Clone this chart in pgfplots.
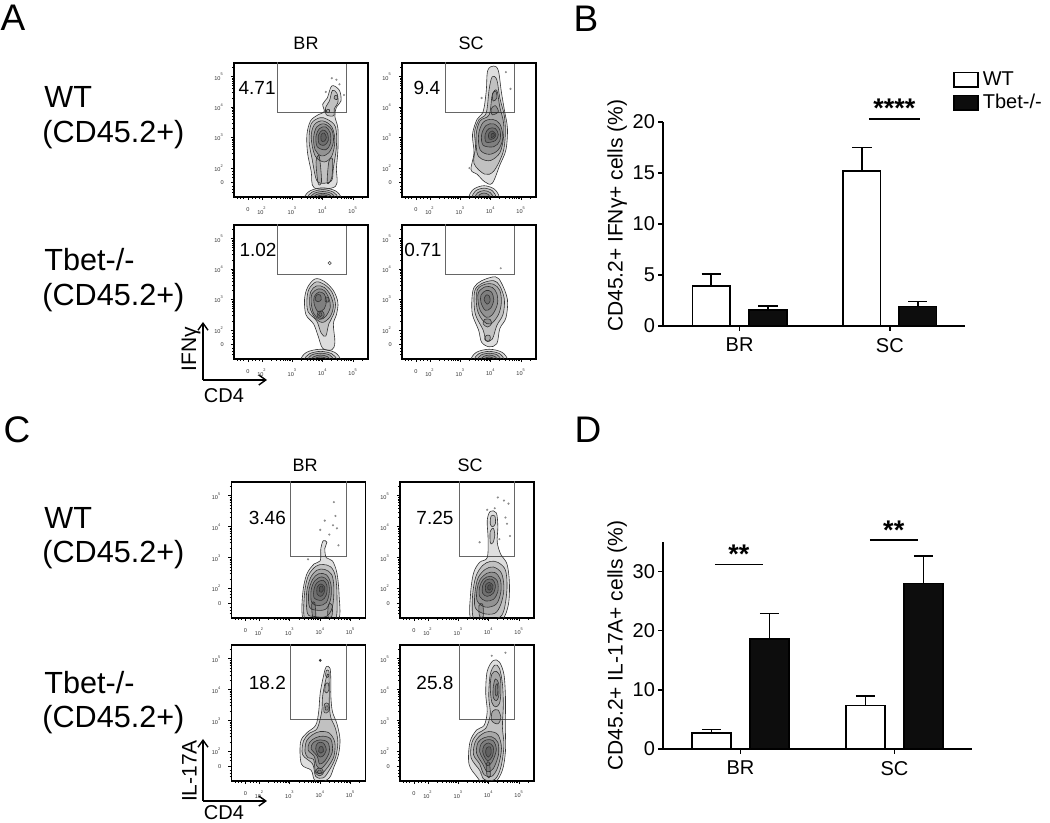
\documentclass[border=0pt]{standalone}
\usepackage{fontspec}
\setmainfont{Liberation Sans}
\usepackage{pgfplots}
\pgfplotsset{compat=1.18}
\usetikzlibrary{arrows.meta}

\tikzset{
  ct/.style={smooth cycle, tension=0.55, draw=black!80, line width=0.3pt, fill=black, fill opacity=0.13},
  gatebox/.style={draw=black!60, line width=0.45pt},
}
\pgfplotsset{
  flow/.style={
    scale only axis, width=67pt, height=67pt, anchor=north west,
    xmin=1.08, xmax=5.49, ymin=1.05, ymax=5.45,
    axis line style={line width=0.7pt},
    tick pos=left, tick align=outside,
    xtick={1.54,2,3,4,5},
    xticklabels={0,10\textsuperscript{2},10\textsuperscript{3},10\textsuperscript{4},10\textsuperscript{5}},
    ytick={1.52,2,3,4,5},
    yticklabels={0,10\textsuperscript{2},10\textsuperscript{3},10\textsuperscript{4},10\textsuperscript{5}},
    minor xtick={1.2,1.3,1.4,1.7,1.8,1.9,2.3,2.48,2.6,2.7,2.78,2.85,2.9,2.95,3.3,3.48,3.6,3.7,3.78,3.85,3.9,3.95,4.3,4.48,4.6,4.7,4.78,4.85,4.9,4.95,5.3},
    minor ytick={1.2,1.3,1.4,1.7,1.8,1.9,2.3,2.48,2.6,2.7,2.78,2.85,2.9,2.95,3.3,3.48,3.6,3.7,3.78,3.85,3.9,3.95,4.3,4.48,4.6,4.7,4.78,4.85,4.9,4.95,5.3},
    major tick length=1.6pt, minor tick length=0.9pt,
    every tick/.style={black, line width=0.4pt},
    tick label style={font=\fontsize{2.8}{3}\selectfont, text=black!80},
  },
  barax/.style={
    scale only axis, anchor=south west, clip=false,
    axis x line*=bottom, axis y line*=left,
    axis line style={line width=0.75pt, -},
    tick align=outside, major tick length=2.5pt,
    every tick/.style={black, line width=0.75pt},
    xtick={0,1}, xticklabels={BR,SC},
    tick label style={font=\fontsize{10}{12}\selectfont},
    yticklabel style={xshift=2pt},
    /pgf/number format/assume math mode=true,
  },
  errs/.style={error bars/.cd, y dir=plus, y explicit,
    error bar style={line width=0.75pt, black},
    error mark options={rotate=90, mark size=4.8pt, line width=0.75pt, black}},
}

\begin{document}
\begin{tikzpicture}
\useasboundingbox (0,0) rectangle (525pt,411.5pt);

% ---------------- panel letters and text ----------------
\node[font=\fontsize{18.5}{20}\selectfont] at (6.5pt,402.5pt) {A};
\node[font=\fontsize{18.5}{20}\selectfont] at (293pt,402pt) {B};
\node[font=\fontsize{18.5}{20}\selectfont] at (8.5pt,196.5pt) {C};
\node[font=\fontsize{18.5}{20}\selectfont] at (294pt,196.5pt) {D};

\node[font=\fontsize{9}{10}\selectfont] at (153pt,390pt) {BR};
\node[font=\fontsize{9}{10}\selectfont] at (235.5pt,390pt) {SC};
\node[font=\fontsize{9}{10}\selectfont] at (152.5pt,179pt) {BR};
\node[font=\fontsize{9}{10}\selectfont] at (235pt,179pt) {SC};

\begin{scope}[every node/.style={font=\fontsize{15.3}{18}\selectfont, anchor=west, inner sep=0pt}]
\node at (22pt,363pt) {WT};
\node at (21pt,344pt) {(CD45.2+)};
\node at (22pt,281.5pt) {Tbet-/-};
\node at (21pt,262.5pt) {(CD45.2+)};
\node at (22pt,152.5pt) {WT};
\node at (21pt,134pt) {(CD45.2+)};
\node at (22pt,70pt) {Tbet-/-};
\node at (21pt,51.5pt) {(CD45.2+)};
\end{scope}

% axis arrows
\draw[line width=0.7pt, -{Straight Barb[length=3.5pt,width=5pt]}] (101.5pt,221.5pt) -- (101.5pt,250.5pt);
\draw[line width=0.7pt, -{Straight Barb[length=3.5pt,width=5pt]}] (101.5pt,221.5pt) -- (133.5pt,221.5pt);
\node[rotate=90, font=\fontsize{10.5}{11}\selectfont] at (95.5pt,237pt) {IFNγ};
\node[font=\fontsize{10}{11}\selectfont] at (112pt,213.5pt) {CD4};
\draw[line width=0.7pt, -{Straight Barb[length=3.5pt,width=5pt]}] (101.5pt,11pt) -- (101.5pt,42pt);
\draw[line width=0.7pt, -{Straight Barb[length=3.5pt,width=5pt]}] (101.5pt,11pt) -- (133.5pt,11pt);
\node[rotate=90, font=\fontsize{10.5}{11}\selectfont] at (94.75pt,26pt) {IL-17A};
\node[font=\fontsize{10}{11}\selectfont, inner sep=0pt] at (112pt,5.2pt) {CD4};

% ================= A : WT BR =================
\begin{axis}[flow, at={(117pt,380pt)}]
\addplot[gatebox] coordinates {(2.52,5.6)(2.52,3.83)(4.79,3.83)(4.79,5.6)};
\addplot[black, line width=1.1pt] coordinates {(2.52,5.45)(4.79,5.45)};
\addplot[ct] coordinates {(3.4,1.02)(3.58,1.25)(4.0,1.35)(4.42,1.25)(4.6,1.02)(4.42,0.79)(4.0,0.69)(3.58,0.79)};
\addplot[ct] coordinates {(3.5,1.02)(3.65,1.21)(4.0,1.29)(4.35,1.21)(4.5,1.02)(4.35,0.83)(4.0,0.75)(3.65,0.83)};
\addplot[ct] coordinates {(3.6,1.02)(3.72,1.17)(4.0,1.23)(4.28,1.17)(4.4,1.02)(4.28,0.87)(4.0,0.81)(3.72,0.87)};
\addplot[ct] coordinates {(3.7,1.02)(3.79,1.13)(4.0,1.17)(4.21,1.13)(4.3,1.02)(4.21,0.91)(4.0,0.87)(3.79,0.91)};
\addplot[ct] coordinates {(3.8,1.02)(3.86,1.09)(4.0,1.12)(4.14,1.09)(4.2,1.02)(4.14,0.95)(4.0,0.92)(3.86,0.95)};
\addplot[ct] coordinates {(3.72,1.35)(3.62,1.9)(3.5,2.5)(3.48,3.1)(3.6,3.55)(3.85,3.75)(4.05,3.85)(4.0,4.1)(4.15,4.3)(4.3,4.7)(4.55,4.55)(4.6,4.2)(4.45,4.0)(4.4,3.7)(4.5,3.3)(4.5,2.6)(4.45,2.0)(4.42,1.4)};
\addplot[ct] coordinates {(4.12,3.75)(4.1,4.0)(4.22,4.2)(4.32,4.55)(4.47,4.45)(4.5,4.15)(4.38,3.95)(4.36,3.72)};
\addplot[ct] coordinates {(3.8,1.6)(3.65,2.3)(3.55,2.9)(3.62,3.45)(3.9,3.65)(4.15,3.6)(4.42,3.35)(4.45,2.7)(4.35,2.0)(4.3,1.6)(4.05,1.5)};
\addplot[ct] coordinates {(3.85,1.5)(3.78,2.2)(3.88,2.4)(3.95,1.8)(3.95,1.5)};
\addplot[ct] coordinates {(4.15,1.5)(4.2,2.2)(4.32,2.3)(4.3,1.7)};
\addplot[ct] coordinates {(3.75,2.4)(3.62,3.0)(3.72,3.42)(4.0,3.55)(4.3,3.35)(4.4,2.9)(4.3,2.4)(4.05,2.2)};
\addplot[ct] coordinates {(3.75,2.6)(3.7,3.0)(3.8,3.35)(4.05,3.45)(4.3,3.25)(4.35,2.85)(4.2,2.5)(3.95,2.4)};
\addplot[ct] coordinates {(3.82,2.7)(3.78,3.05)(3.9,3.3)(4.1,3.35)(4.25,3.15)(4.25,2.8)(4.1,2.6)};
\addplot[ct] coordinates {(3.88,2.8)(3.86,3.08)(4.0,3.25)(4.15,3.15)(4.18,2.9)(4.05,2.75)};
\addplot[ct] coordinates {(3.95,2.9)(3.95,3.1)(4.05,3.15)(4.12,3.0)(4.05,2.88)};
\addplot[ct] coordinates {(4.38,4.28)(4.4,4.38)(4.48,4.36)(4.47,4.25)};
\addplot[ct] coordinates {(4.12,3.85)(4.15,3.93)(4.22,3.92)(4.21,3.83)};
\addplot[only marks, mark=*, mark size=0.3pt, black!45] coordinates {(4.3,4.95)(4.55,4.75)(4.1,4.5)(4.45,4.9)(4.7,4.4)};
\node[font=\fontsize{9.5}{10}\selectfont] at (axis cs:1.84,4.63) {4.71};
\end{axis}

% ================= A : WT SC =================
\begin{axis}[flow, at={(201pt,380pt)}]
\addplot[gatebox] coordinates {(2.52,5.6)(2.52,3.83)(4.79,3.83)(4.79,5.6)};
\addplot[black, line width=1.1pt] coordinates {(2.52,5.45)(4.79,5.45)};
\addplot[ct] coordinates {(3.28,1.02)(3.43,1.3)(3.78,1.42)(4.13,1.3)(4.28,1.02)(4.13,0.74)(3.78,0.62)(3.43,0.74)};
\addplot[ct] coordinates {(3.38,1.02)(3.5,1.25)(3.78,1.34)(4.06,1.25)(4.18,1.02)(4.06,0.79)(3.78,0.7)(3.5,0.79)};
\addplot[ct] coordinates {(3.48,1.02)(3.57,1.19)(3.78,1.26)(3.99,1.19)(4.08,1.02)(3.99,0.85)(3.78,0.78)(3.57,0.85)};
\addplot[ct] coordinates {(3.58,1.02)(3.64,1.13)(3.78,1.18)(3.92,1.13)(3.98,1.02)(3.92,0.91)(3.78,0.86)(3.64,0.91)};
\addplot[ct] coordinates {(3.35,1.95)(3.45,2.5)(3.4,3.1)(3.55,3.6)(3.75,3.85)(3.85,4.5)(3.9,5.2)(4.1,5.35)(4.25,5.2)(4.35,4.5)(4.45,3.9)(4.55,3.3)(4.5,2.6)(4.3,2.1)(4.05,1.5)(3.8,1.55)(3.55,1.8)};
\addplot[ct] coordinates {(3.45,2.15)(3.5,2.7)(3.47,3.2)(3.62,3.6)(3.85,3.8)(3.95,4.6)(4.05,5.0)(4.2,4.9)(4.3,4.3)(4.45,3.7)(4.48,3.1)(4.4,2.5)(4.1,1.9)(3.8,1.8)};
\addplot[ct] coordinates {(3.55,2.5)(3.52,3.1)(3.65,3.55)(3.95,3.75)(4.05,4.4)(4.2,4.55)(4.3,4.0)(4.42,3.5)(4.42,3.0)(4.3,2.5)(4.0,2.25)(3.7,2.3)};
\addplot[ct] coordinates {(3.65,2.6)(3.6,3.1)(3.75,3.5)(4.05,3.6)(4.3,3.45)(4.4,3.0)(4.25,2.6)(3.95,2.45)};
\addplot[ct] coordinates {(3.75,2.75)(3.7,3.1)(3.85,3.4)(4.1,3.45)(4.3,3.25)(4.3,2.9)(4.1,2.7)};
\addplot[ct] coordinates {(3.85,2.85)(3.82,3.12)(3.95,3.3)(4.15,3.3)(4.25,3.1)(4.15,2.9)};
\addplot[ct] coordinates {(3.95,2.95)(3.93,3.12)(4.05,3.22)(4.17,3.1)(4.1,2.97)};
\addplot[ct] coordinates {(4.02,3.0)(4.02,3.12)(4.09,3.15)(4.12,3.06)};
\addplot[ct] coordinates {(4.08,4.2)(4.06,4.45)(4.17,4.52)(4.2,4.3)};
\addplot[ct] coordinates {(4.05,3.75)(4.02,3.95)(4.15,4.05)(4.25,3.85)};
\addplot[only marks, mark=*, mark size=0.3pt, black!45] coordinates {(4.5,5.15)(4.65,4.6)(3.7,4.3)(3.3,2.0)};
\node[font=\fontsize{9.5}{10}\selectfont] at (axis cs:1.9,4.63) {9.4};
\end{axis}

% ================= A : Tbet BR =================
\begin{axis}[flow, at={(117pt,299pt)}]
\addplot[gatebox] coordinates {(2.52,5.6)(2.52,3.83)(4.79,3.83)(4.79,5.6)};
\addplot[black, line width=1.1pt] coordinates {(2.52,5.45)(4.79,5.45)};
\addplot[ct] coordinates {(3.28,1.02)(3.47,1.27)(3.93,1.37)(4.39,1.27)(4.58,1.02)(4.39,0.77)(3.93,0.67)(3.47,0.77)};
\addplot[ct] coordinates {(3.4,1.02)(3.56,1.22)(3.93,1.3)(4.3,1.22)(4.46,1.02)(4.3,0.82)(3.93,0.74)(3.56,0.82)};
\addplot[ct] coordinates {(3.51,1.02)(3.63,1.18)(3.93,1.24)(4.23,1.18)(4.35,1.02)(4.23,0.86)(3.93,0.8)(3.63,0.86)};
\addplot[ct] coordinates {(3.62,1.02)(3.71,1.13)(3.93,1.18)(4.15,1.13)(4.24,1.02)(4.15,0.91)(3.93,0.86)(3.71,0.91)};
\addplot[ct] coordinates {(3.73,1.02)(3.79,1.09)(3.93,1.12)(4.07,1.09)(4.13,1.02)(4.07,0.95)(3.93,0.92)(3.79,0.95)};
\addplot[ct] coordinates {(3.5,3.4)(3.75,3.68)(4.05,3.6)(4.35,3.3)(4.5,2.9)(4.45,2.5)(4.35,2.2)(4.4,1.6)(4.3,1.35)(4.0,1.4)(3.85,1.8)(3.7,2.2)(3.45,2.5)(3.4,3.0)};
\addplot[ct] coordinates {(3.55,3.35)(3.78,3.58)(4.05,3.5)(4.3,3.25)(4.42,2.85)(4.35,2.5)(4.2,2.2)(4.1,1.8)(3.95,1.9)(3.8,2.3)(3.52,2.6)(3.48,3.0)};
\addplot[ct] coordinates {(3.6,3.25)(3.8,3.45)(4.05,3.4)(4.25,3.15)(4.35,2.8)(4.25,2.45)(4.0,2.25)(3.75,2.4)(3.58,2.75)};
\addplot[ct] coordinates {(3.65,3.2)(3.85,3.35)(4.05,3.3)(4.2,3.05)(4.25,2.75)(4.1,2.45)(3.9,2.35)(3.7,2.55)(3.62,2.9)};
\addplot[ct] coordinates {(3.72,3.1)(3.88,3.25)(4.05,3.18)(4.12,2.95)(4.05,2.7)(3.85,2.6)(3.72,2.85)};
\addplot[ct] coordinates {(3.82,2.45)(3.85,2.6)(3.98,2.62)(4.05,2.5)(3.97,2.38)};
\addplot[ct] coordinates {(3.86,2.5)(3.9,2.57)(3.96,2.56)(3.98,2.48)(3.92,2.44)};
\addplot[ct] coordinates {(3.75,3.0)(3.8,3.15)(3.92,3.15)(3.95,3.0)(3.85,2.93)};
\addplot[ct] coordinates {(4.08,2.95)(4.1,3.08)(4.2,3.05)(4.18,2.92)};
\addplot[only marks, mark=o, mark size=0.8pt, black!70, line width=0.3pt] coordinates {(4.23,4.2)};
\node[font=\fontsize{9.5}{10}\selectfont] at (axis cs:1.87,4.63) {1.02};
\end{axis}

% ================= A : Tbet SC =================
\begin{axis}[flow, at={(201pt,299pt)}]
\addplot[gatebox] coordinates {(2.52,5.6)(2.52,3.83)(4.79,3.83)(4.79,5.6)};
\addplot[black, line width=1.1pt] coordinates {(2.52,5.45)(4.79,5.45)};
\addplot[ct] coordinates {(3.35,1.02)(3.53,1.27)(3.95,1.37)(4.37,1.27)(4.55,1.02)(4.37,0.77)(3.95,0.67)(3.53,0.77)};
\addplot[ct] coordinates {(3.46,1.02)(3.6,1.22)(3.95,1.3)(4.3,1.22)(4.44,1.02)(4.3,0.82)(3.95,0.74)(3.6,0.82)};
\addplot[ct] coordinates {(3.57,1.02)(3.68,1.18)(3.95,1.24)(4.22,1.18)(4.33,1.02)(4.22,0.86)(3.95,0.8)(3.68,0.86)};
\addplot[ct] coordinates {(3.68,1.02)(3.76,1.13)(3.95,1.18)(4.14,1.13)(4.22,1.02)(4.14,0.91)(3.95,0.86)(3.76,0.91)};
\addplot[ct] coordinates {(3.79,1.02)(3.84,1.09)(3.95,1.12)(4.06,1.09)(4.11,1.02)(4.06,0.95)(3.95,0.92)(3.84,0.95)};
\addplot[ct] coordinates {(3.45,3.4)(3.7,3.62)(4.15,3.75)(4.35,3.55)(4.55,3.0)(4.5,2.4)(4.3,2.05)(4.2,1.55)(3.95,1.45)(3.7,1.6)(3.6,2.0)(3.4,2.5)(3.38,3.0)};
\addplot[ct] coordinates {(3.5,3.35)(3.75,3.55)(4.1,3.62)(4.3,3.45)(4.45,3.0)(4.4,2.5)(4.2,2.15)(4.05,1.7)(3.85,1.65)(3.75,2.0)(3.5,2.5)(3.45,3.0)};
\addplot[ct] coordinates {(3.55,3.3)(3.8,3.5)(4.1,3.5)(4.3,3.3)(4.35,2.9)(4.25,2.5)(4.0,2.2)(3.75,2.3)(3.55,2.7)};
\addplot[ct] coordinates {(3.6,3.25)(3.82,3.42)(4.05,3.4)(4.2,3.2)(4.22,2.85)(4.05,2.5)(3.85,2.42)(3.65,2.65)(3.58,3.0)};
\addplot[ct] coordinates {(3.68,3.15)(3.85,3.3)(4.02,3.25)(4.1,3.0)(4.0,2.72)(3.82,2.65)(3.68,2.9)};
\addplot[ct] coordinates {(3.78,3.0)(3.85,3.15)(3.95,3.12)(3.98,2.95)(3.88,2.85)};
\addplot[ct] coordinates {(3.75,2.2)(3.8,2.35)(3.98,2.35)(4.02,2.2)(3.9,2.1)};
\addplot[ct] coordinates {(3.8,1.7)(3.85,1.82)(3.97,1.82)(3.98,1.7)(3.9,1.62)};
\addplot[only marks, mark=*, mark size=0.3pt, black!40] coordinates {(4.33,4.03)};
\node[font=\fontsize{9.5}{10}\selectfont] at (axis cs:1.77,4.63) {0.71};
\end{axis}

% ================= C : WT BR =================
\begin{axis}[flow, height=68pt, at={(115.75pt,170.5pt)}]
\addplot[gatebox] coordinates {(3.02,5.6)(3.02,3.05)(4.85,3.05)(4.85,5.6)};
\addplot[ct] coordinates {(3.45,1.0)(3.42,1.8)(3.55,2.45)(3.8,2.8)(4.0,2.9)(4.02,3.3)(4.1,3.55)(4.22,3.5)(4.15,3.3)(4.2,3.0)(4.4,2.9)(4.55,2.5)(4.62,1.8)(4.6,1.0)(4.0,0.9)};
\addplot[ct] coordinates {(3.5,1.0)(3.48,1.8)(3.6,2.4)(3.85,2.72)(4.1,2.78)(4.35,2.7)(4.5,2.4)(4.55,1.8)(4.5,1.0)(4.0,0.95)};
\addplot[ct] coordinates {(3.58,1.2)(3.55,1.85)(3.68,2.35)(3.9,2.6)(4.15,2.62)(4.38,2.45)(4.45,2.0)(4.4,1.4)(4.2,1.1)(3.8,1.1)};
\addplot[ct] coordinates {(3.65,1.4)(3.62,1.9)(3.75,2.3)(3.95,2.48)(4.2,2.45)(4.35,2.15)(4.35,1.7)(4.2,1.35)(3.9,1.3)};
\addplot[ct] coordinates {(3.72,1.55)(3.7,1.95)(3.82,2.25)(4.05,2.38)(4.25,2.25)(4.3,1.9)(4.2,1.55)(3.95,1.45)};
\addplot[ct] coordinates {(3.8,1.7)(3.8,2.0)(3.9,2.2)(4.1,2.27)(4.22,2.1)(4.2,1.8)(4.05,1.62)};
\addplot[ct] coordinates {(3.9,1.82)(3.9,2.05)(4.02,2.15)(4.15,2.05)(4.12,1.85)(4.02,1.75)};
\addplot[ct] coordinates {(3.98,1.9)(3.98,2.05)(4.07,2.08)(4.1,1.95)(4.04,1.88)};
\addplot[ct] coordinates {(3.75,1.1)(3.72,1.5)(3.82,1.55)(3.85,1.1)};
\addplot[ct] coordinates {(4.25,1.1)(4.28,1.5)(4.4,1.45)(4.38,1.1)};
\addplot[only marks, mark=*, mark size=0.3pt, black!45] coordinates {(4.45,4.8)(4.15,4.2)(4.42,4.05)(4.55,3.95)(4.3,3.75)(4.0,3.9)(4.6,3.4)(4.5,4.35)(3.6,2.95)};
\node[font=\fontsize{9.5}{10}\selectfont] at (axis cs:2.26,4.28) {3.46};
\end{axis}

% ================= C : WT SC =================
\begin{axis}[flow, height=68pt, at={(200pt,170.5pt)}]
\addplot[gatebox] coordinates {(3.02,5.6)(3.02,3.05)(4.85,3.05)(4.85,5.6)};
\addplot[ct] coordinates {(3.42,1.0)(3.4,1.8)(3.5,2.5)(3.7,2.85)(3.95,3.0)(3.98,3.6)(3.95,4.2)(4.05,4.5)(4.25,4.45)(4.3,4.0)(4.28,3.5)(4.4,3.1)(4.6,2.8)(4.68,2.2)(4.65,1.5)(4.45,1.0)(4.0,0.9)};
\addplot[ct] coordinates {(3.48,1.1)(3.47,1.8)(3.58,2.4)(3.8,2.75)(4.05,2.88)(4.3,2.85)(4.55,2.6)(4.6,2.0)(4.5,1.3)(4.3,1.05)(3.7,1.05)};
\addplot[ct] coordinates {(3.55,1.4)(3.55,1.9)(3.65,2.35)(3.88,2.62)(4.15,2.7)(4.42,2.5)(4.5,2.0)(4.4,1.5)(4.2,1.2)(3.8,1.2)};
\addplot[ct] coordinates {(3.62,1.6)(3.62,2.0)(3.72,2.3)(3.95,2.5)(4.2,2.52)(4.38,2.3)(4.4,1.9)(4.25,1.5)(3.9,1.4)};
\addplot[ct] coordinates {(3.7,1.75)(3.7,2.05)(3.82,2.3)(4.05,2.4)(4.28,2.25)(4.3,1.9)(4.15,1.65)(3.9,1.6)};
\addplot[ct] coordinates {(3.8,1.85)(3.8,2.1)(3.92,2.28)(4.12,2.3)(4.22,2.1)(4.15,1.85)(3.95,1.75)};
\addplot[ct] coordinates {(3.9,1.92)(3.9,2.12)(4.02,2.2)(4.14,2.1)(4.1,1.92)(4.0,1.86)};
\addplot[ct] coordinates {(3.97,1.98)(3.98,2.1)(4.06,2.12)(4.08,2.0)(4.02,1.95)};
\addplot[ct] coordinates {(4.05,4.1)(4.08,4.35)(4.2,4.35)(4.22,4.1)(4.12,4.0)};
\addplot[ct] coordinates {(4.05,3.5)(4.05,3.85)(4.15,3.95)(4.2,3.75)(4.15,3.5)(4.1,3.45)};
\addplot[ct] coordinates {(3.7,1.1)(3.68,1.45)(3.8,1.5)(3.82,1.1)};
\addplot[only marks, mark=*, mark size=0.3pt, black!45] coordinates {(4.3,4.95)(4.5,4.85)(4.65,4.75)(4.2,4.6)(4.55,4.3)(3.95,4.55)(4.7,3.7)(3.7,3.5)(4.6,4.1)(4.35,3.6)};
\node[font=\fontsize{9.5}{10}\selectfont] at (axis cs:2.23,4.28) {7.25};
\end{axis}

% ================= C : Tbet BR =================
\begin{axis}[flow, height=68pt, at={(115.75pt,89pt)}]
\addplot[gatebox] coordinates {(3.02,5.6)(3.02,3.05)(4.85,3.05)(4.85,5.6)};
\addplot[ct] coordinates {(3.38,1.6)(3.35,2.3)(3.55,2.6)(3.85,2.85)(3.95,3.3)(4.0,3.9)(4.12,4.5)(4.2,4.75)(4.32,4.7)(4.35,4.3)(4.35,3.8)(4.4,3.3)(4.55,2.9)(4.65,2.4)(4.6,1.9)(4.45,1.5)(4.3,1.15)(4.0,1.0)(3.8,1.1)(3.7,1.4)};
\addplot[ct] coordinates {(3.42,1.9)(3.45,2.35)(3.65,2.6)(3.9,2.75)(4.05,3.3)(4.08,3.8)(4.2,4.4)(4.28,4.5)(4.3,4.0)(4.3,3.5)(4.35,3.1)(4.5,2.75)(4.58,2.3)(4.5,1.8)(4.3,1.4)(4.1,1.15)(3.85,1.2)(3.75,1.6)};
\addplot[ct] coordinates {(3.5,2.0)(3.55,2.35)(3.75,2.55)(4.0,2.65)(4.3,2.6)(4.48,2.3)(4.45,1.85)(4.25,1.5)(4.05,1.3)(3.85,1.35)(3.78,1.75)(3.6,1.8)};
\addplot[ct] coordinates {(3.6,2.05)(3.65,2.3)(3.85,2.45)(4.1,2.5)(4.35,2.4)(4.4,2.0)(4.22,1.65)(4.02,1.45)(3.88,1.55)(3.8,1.85)};
\addplot[ct] coordinates {(3.7,2.1)(3.78,2.3)(4.0,2.38)(4.25,2.3)(4.3,2.0)(4.15,1.7)(3.98,1.6)(3.9,1.85)};
\addplot[ct] coordinates {(3.85,2.1)(3.92,2.28)(4.1,2.28)(4.2,2.05)(4.08,1.85)(3.95,1.85)};
\addplot[ct] coordinates {(3.95,2.0)(3.98,2.15)(4.08,2.15)(4.1,2.0)(4.02,1.95)};
\addplot[ct] coordinates {(3.85,1.3)(3.9,1.45)(4.05,1.45)(4.1,1.3)(3.98,1.22)};
\addplot[ct] coordinates {(3.9,1.33)(3.94,1.4)(4.02,1.4)(4.04,1.32)(3.97,1.28)};
\addplot[ct] coordinates {(4.12,3.3)(4.15,3.55)(4.27,3.55)(4.3,3.35)(4.2,3.25)};
\addplot[ct] coordinates {(4.17,3.35)(4.19,3.48)(4.25,3.48)(4.26,3.36)};
\addplot[ct] coordinates {(4.15,3.95)(4.18,4.2)(4.27,4.2)(4.28,3.98)(4.2,3.9)};
\addplot[ct] coordinates {(4.18,4.45)(4.2,4.62)(4.28,4.62)(4.29,4.45)(4.23,4.4)};
\addplot[only marks, mark=*, mark size=0.45pt, black!80] coordinates {(4.0,4.95)};
\node[font=\fontsize{9.5}{10}\selectfont] at (axis cs:2.26,4.21) {18.2};
\end{axis}

% ================= C : Tbet SC =================
\begin{axis}[flow, height=68pt, at={(200pt,89pt)}]
\addplot[gatebox] coordinates {(3.02,5.6)(3.02,3.05)(4.85,3.05)(4.85,5.6)};
\addplot[ct] coordinates {(3.35,1.6)(3.38,2.3)(3.6,2.7)(3.85,2.85)(3.95,3.3)(3.9,3.9)(3.95,4.6)(4.15,4.95)(4.35,4.9)(4.5,4.5)(4.55,3.8)(4.55,3.2)(4.55,2.6)(4.55,2.0)(4.45,1.4)(4.2,1.0)(3.8,1.0)(3.6,1.2)};
\addplot[ct] coordinates {(3.42,1.8)(3.45,2.3)(3.65,2.6)(3.9,2.75)(4.05,3.2)(4.0,3.8)(4.05,4.5)(4.2,4.8)(4.35,4.7)(4.45,4.2)(4.48,3.5)(4.45,2.8)(4.5,2.2)(4.4,1.5)(4.2,1.1)(3.85,1.1)(3.7,1.4)};
\addplot[ct] coordinates {(3.5,1.9)(3.55,2.3)(3.75,2.55)(4.0,2.65)(4.3,2.55)(4.42,2.1)(4.3,1.5)(4.1,1.2)(3.85,1.25)(3.7,1.6)};
\addplot[ct] coordinates {(3.6,1.95)(3.65,2.3)(3.85,2.45)(4.1,2.48)(4.3,2.3)(4.32,1.9)(4.15,1.45)(3.95,1.35)(3.8,1.6)};
\addplot[ct] coordinates {(3.7,2.0)(3.75,2.25)(3.92,2.38)(4.15,2.35)(4.25,2.05)(4.1,1.65)(3.95,1.55)(3.82,1.75)};
\addplot[ct] coordinates {(3.8,2.0)(3.85,2.2)(4.0,2.28)(4.15,2.15)(4.12,1.85)(3.98,1.7)(3.88,1.8)};
\addplot[ct] coordinates {(3.9,1.95)(3.93,2.12)(4.05,2.15)(4.08,1.95)(3.98,1.82)};
\addplot[ct] coordinates {(3.95,1.2)(3.92,1.6)(4.02,1.65)(4.05,1.2)};
\addplot[ct] coordinates {(4.1,3.6)(4.05,4.1)(4.1,4.5)(4.25,4.6)(4.38,4.4)(4.4,3.9)(4.35,3.55)(4.22,3.45)};
\addplot[ct] coordinates {(4.15,3.75)(4.15,4.1)(4.22,4.35)(4.33,4.2)(4.33,3.8)(4.25,3.65)};
\addplot[ct] coordinates {(4.22,3.85)(4.22,4.1)(4.28,4.2)(4.3,3.95)(4.27,3.8)};
\addplot[ct] coordinates {(4.1,3.0)(4.12,3.3)(4.3,3.35)(4.4,3.1)(4.3,2.9)};
\addplot[only marks, mark=*, mark size=0.3pt, black!45] coordinates {(4.1,5.1)(4.55,5.2)(3.75,1.3)};
\node[font=\fontsize{9.5}{10}\selectfont] at (axis cs:2.23,4.21) {25.8};
\end{axis}

% ================= B =================
\begin{axis}[barax, at={(331.5pt,248.5pt)}, width=151pt, height=102pt,
  xmin=-0.51, xmax=1.5, ymin=0, ymax=20, ytick={0,5,10,15,20},
  ylabel={CD45.2+ IFNγ+ cells (\%)},
  y label style={font=\fontsize{10.5}{12}\selectfont, at={(axis description cs:-0.152,0.54)}, anchor=center},
  legend image code/.code={\draw[#1] (0pt,-3.7pt) rectangle (12pt,3.7pt);},
  legend style={at={(0.96,1.27)}, anchor=north west, draw=none, fill=none, inner sep=0pt,
    row sep=-1pt, font=\fontsize{10}{12}\selectfont, legend cell align=left},
  legend cell align=left]
\addlegendimage{fill=white, draw=black, line width=0.75pt}
\addlegendentry{WT}
\addlegendimage{fill=black!95, draw=black, line width=0.75pt}
\addlegendentry{Tbet-/-}
\addplot[forget plot, ybar, bar width=0.25, bar shift=0pt, fill=white, draw=black, line width=0.75pt, errs]
  coordinates {(-0.189,3.92) +- (0,1.18) (0.814,15.2) +- (0,2.3)};
\addplot[forget plot, ybar, bar width=0.25, bar shift=0pt, fill=black!95, draw=black, line width=0.75pt, errs]
  coordinates {(0.189,1.57) +- (0,0.39) (1.186,1.9) +- (0,0.49)};
\addplot[black, line width=0.75pt, forget plot] coordinates {(0.86,20.3)(1.2,20.3)};
\node[font=\fontsize{13.5}{14}\selectfont\bfseries, anchor=base] at (axis cs:1.03,20.4) {****};
\end{axis}

% ================= D =================
\begin{axis}[barax, at={(331.5pt,37pt)}, width=154.5pt, height=103.5pt,
  xmin=-0.503, xmax=1.503, ymin=0, ymax=35, ytick={0,10,20,30},
  ylabel={CD45.2+ IL-17A+ cells (\%)},
  y label style={font=\fontsize{10.5}{12}\selectfont, at={(axis description cs:-0.148,0.5)}, anchor=center}]
\addplot[ybar, bar width=0.253, bar shift=0pt, fill=white, draw=black, line width=0.75pt, errs]
  coordinates {(-0.188,2.7) +- (0,0.56) (0.812,7.36) +- (0,1.64)};
\addplot[ybar, bar width=0.253, bar shift=0pt, fill=black!95, draw=black, line width=0.75pt, errs]
  coordinates {(0.188,18.6) +- (0,4.3) (1.188,28.0) +- (0,4.6)};
\addplot[black, line width=0.75pt] coordinates {(-0.166,31.2)(0.146,31.2)};
\addplot[black, line width=0.75pt] coordinates {(0.84,35.3)(1.15,35.3)};
\node[font=\fontsize{13.5}{14}\selectfont\bfseries, anchor=base] at (axis cs:-0.01,31.3) {**};
\node[font=\fontsize{13.5}{14}\selectfont\bfseries, anchor=base] at (axis cs:0.995,35.4) {**};
\end{axis}

\end{tikzpicture}
\end{document}
